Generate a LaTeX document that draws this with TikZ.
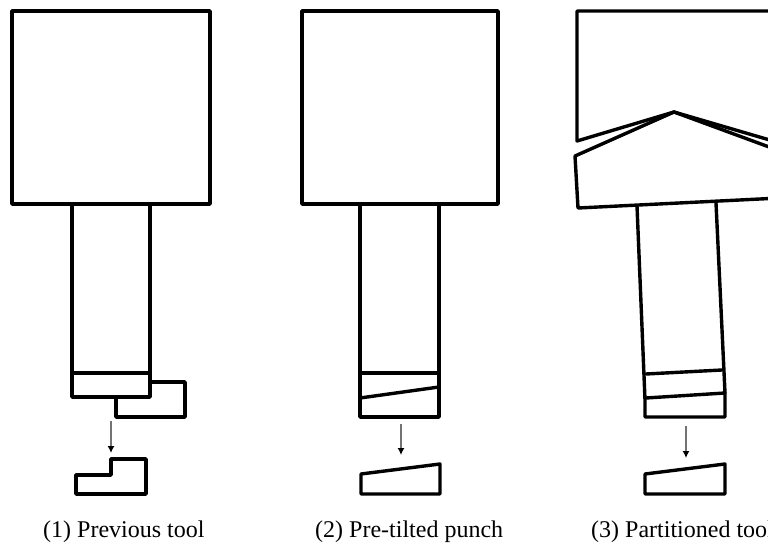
\documentclass[tikz,border=0pt]{standalone}
\usepackage{fontspec}
\setmainfont{Liberation Serif}
\usetikzlibrary{arrows.meta}
\tikzset{
  part/.style={draw=black,line width=3.4pt,line join=round,line cap=round},
  feed/.style={draw=black!55,line width=1.2pt,-{Latex[length=7pt,width=7pt,black]}},
  caption/.style={font=\fontsize{24}{26}\selectfont,anchor=base west,inner sep=0pt,text=black}
}
\begin{document}
\begin{tikzpicture}[x=1pt,y=-1pt]
\path[use as bounding box] (0,0) rectangle (768,545);
\clip (0,0) rectangle (768,545);
% Panel 1
\draw[part] (12,11) rectangle (210,204);
\draw[part] (72,204) -- (72,397) -- (150,397) -- (150,204);
\draw[part] (72,373) -- (150,373);
\draw[part] (150,382) -- (185,382) -- (185,417) -- (116,417) -- (116,397);
\coordinate (a1s) at (111,421); \coordinate (a1e) at (111,453);
\draw[feed] (a1s) -- (a1e);
\draw[part] (76,475) -- (111,475) -- (111,459) -- (146,459) -- (146,494) -- (76,494) -- cycle;
\node[caption] (c1) at (43,537) {(1) Previous tool};
% Panel 2
\draw[part] (302,11) rectangle (498,204);
\draw[part] (360,204) -- (360,417) -- (439,417) -- (439,204);
\draw[part] (360,373) -- (439,373);
\draw[part] (360,398) -- (439,387);
\coordinate (a2s) at (401,424); \coordinate (a2e) at (401,455);
\draw[feed] (a2s) -- (a2e);
\draw[part] (361,474) -- (440,464) -- (440,494) -- (361,494) -- cycle;
\node[caption] (c2) at (315,537) {(2) Pre-tilted punch};
% Panel 3
\draw[part] (780,11) -- (577,11) -- (577,141) -- (674,112) -- (780,143);
\draw[part] (780,151) -- (674,112) -- (575,156) -- (578,208) -- (780,198);
\draw[part] (637,206) -- (645,400) -- (645,417) -- (725,417) -- (725,393) -- (716,203);
\draw[part] (646,374) -- (722,370);
\draw[part] (646,398) -- (725,393);
\coordinate (a3s) at (686,426); \coordinate (a3e) at (686,458);
\draw[feed] (a3s) -- (a3e);
\draw[part] (645,474) -- (725,464) -- (725,494) -- (645,494) -- cycle;
\node[caption] (c3) at (591,537) {(3) Partitioned tool};
\end{tikzpicture}
\end{document}
